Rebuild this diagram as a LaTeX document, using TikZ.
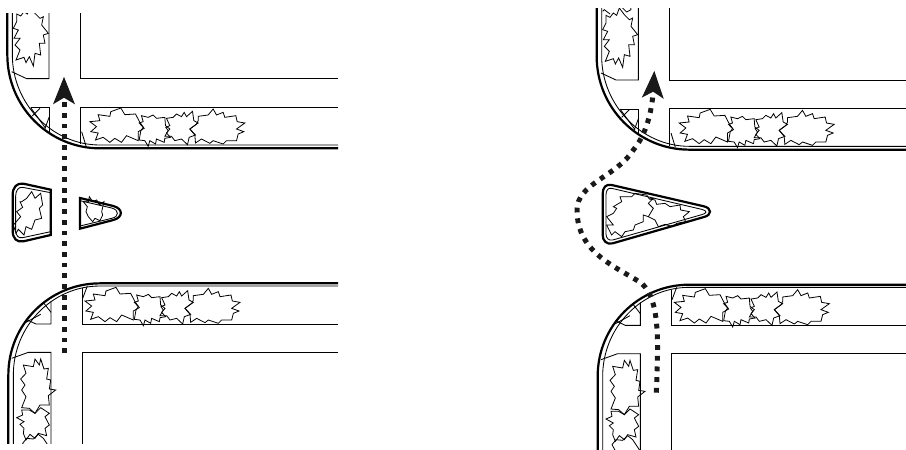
\documentclass[tikz,border=0pt]{standalone}
\usepackage{tikz}
\usetikzlibrary{arrows.meta}
\tikzset{
    kerb/.style={line width=2.2pt},
    road/.style={line width=0.85pt},
    shrub/.style={line width=0.8pt, line join=miter},
    route/.style={line width=5pt, dash pattern=on 4.8pt off 5.9pt, color=black!90,
        -{Stealth[length=27pt,width=21pt,inset=6pt]}}
}
% all coordinates are 3x pixels, y downwards
\newcommand{\shrubrow}{
    \draw[shrub] (280,207) -- (315,212) -- (318,198) -- (348,187) -- (360,207) -- (392,205) -- (405,230) -- (418,248) -- (400,258) -- (400,285) -- (365,270) -- (350,290) -- (330,278) -- (315,290) -- (295,275) -- (272,283) -- (280,262) -- (258,258) -- (275,243) -- (255,228) -- (285,225) -- cycle;
    \draw[shrub] (410,210) -- (430,215) -- (445,208) -- (455,218) -- (480,215) -- (482,240) -- (495,250) -- (485,262) -- (497,275) -- (480,278) -- (478,290) -- (455,280) -- (452,295) -- (435,285) -- (430,302) -- (420,285) -- (403,283) -- (408,255) -- (415,245) -- (403,232) -- (415,228) -- cycle;
    \draw[shrub] (485,218) -- (505,215) -- (515,205) -- (530,213) -- (538,200) -- (545,213) -- (563,197) -- (567,225) -- (580,232) -- (555,250) -- (572,268) -- (553,275) -- (548,297) -- (530,280) -- (510,285) -- (500,272) -- (480,272) -- (490,255) -- (483,245) -- (495,240) -- cycle;
    \draw[shrub] (580,212) -- (610,208) -- (625,190) -- (635,208) -- (655,200) -- (660,215) -- (693,210) -- (697,228) -- (720,232) -- (695,250) -- (717,258) -- (700,265) -- (695,285) -- (665,285) -- (655,295) -- (625,285) -- (615,293) -- (590,280) -- (572,292) -- (570,268) -- (555,250) -- (575,235) -- (580,225) -- cycle;
}
\newcommand{\junction}[2]{
    \begin{scope}
    \clip (-10,#1) rectangle (1014,#2);
    % upper corner
    \draw[kerb] (22,0) -- (22,165) .. controls (22,319) and (146,445) .. (300,445) -- (1014,445);
    \draw[road] (37,0) -- (37,165) .. controls (37,310) and (155,435) .. (300,435) -- (1014,435);
    \draw[road] (35,215) -- (80,236) -- (147,236) -- (147,0);
    \draw[road] (241,0) -- (241,236) -- (1014,236);
    \draw[road] (1014,322) -- (241,322) -- (241,433);
    \draw[road] (245,395) -- (258,438);
    \draw[road] (92,323) -- (148,323) -- (148,395);
    \draw[road] (92,323) -- (137,385);
    \draw[road] (120,325) -- (97,348);
    \draw[road] (148,350) -- (135,385);
    \draw[shrub] (50,42) -- (62,48) -- (72,35) -- (82,42) -- (90,20) -- (105,40) -- (120,55) -- (130,50) -- (125,75) -- (145,100) -- (130,105) -- (135,130) -- (118,130) -- (122,165) -- (105,160) -- (100,198) -- (88,170) -- (78,188) -- (72,172) -- (48,180) -- (60,150) -- (45,135) -- (60,115) -- (42,115) -- (55,90) -- (40,85) -- (50,65) -- cycle;
    \draw[shrub] (40,30) -- (45,25) -- (62,38);
    \draw[shrub] (95,15) -- (112,32) -- (125,25) -- (122,5);
    \begin{scope}[shift={(14.5,137)}]
    \shrubrow
    \end{scope}
    % lower corner
    \begin{scope}[shift={(0,675)}]
    \draw[kerb] (1014,175) -- (300,175) .. controls (148,175) and (25,298) .. (25,450) -- (25,720);
    \draw[road] (1014,183) -- (300,183) .. controls (157,183) and (40,303) .. (40,450) -- (40,720);
    \draw[road] (1014,297) -- (246,297) -- (246,190);
    \draw[road] (262,183) -- (248,220);
    \draw[road] (82,285) -- (108,297) -- (153,297) -- (153,228);
    \draw[road] (153,262) -- (132,235);
    \draw[road] (78,292) -- (122,268);
    \draw[road] (35,400) -- (85,382) -- (153,382) -- (153,720);
    \draw[road] (1014,382) -- (246,382) -- (246,720);
    \shrubrow
    \draw[shrub] (70,420) -- (100,425) -- (105,402) -- (118,420) -- (122,402) -- (132,432) -- (145,430) -- (140,462) -- (152,465) -- (148,492) -- (167,495) -- (145,512) -- (148,540) -- (120,540) -- (105,565) -- (88,550) -- (65,548) -- (78,515) -- (65,495) -- (75,480) -- (62,462) -- (78,445) -- cycle;
    \draw[shrub] (65,555) -- (88,555) -- (105,565) -- (122,548) -- (148,565) -- (135,575) -- (148,600) -- (135,610) -- (140,632) -- (115,625) -- (105,640) -- (90,628) -- (78,645) -- (70,625) -- (72,610) -- (60,598) -- (72,590) -- (50,578) -- (68,570) -- cycle;
    \draw[shrub] (68,655) -- (80,640) -- (100,642) -- (115,628) -- (130,640) -- (150,670) -- (135,690) -- (90,695) -- cycle;
    \end{scope}
    \end{scope}
}
\begin{document}
\begin{tikzpicture}[x=0.33333pt, y=-0.33333pt]
    \useasboundingbox (0,0) rectangle (2718,1347);
    \junction{40}{1330}
    \begin{scope}[shift={(1768,4)}]
    \junction{20}{1343}
    \end{scope}
    % left islands
    \draw[kerb] (152,569) -- (70,551) .. controls (50,548) and (38,562) .. (38,585) -- (38,692) .. controls (38,715) and (50,728) .. (70,724) -- (152,705) -- cycle;
    \draw[road] (152,578) -- (68,562) .. controls (55,560) and (47,572) .. (47,588) -- (47,690) .. controls (47,706) and (55,716) .. (68,713) -- (152,695);
    \draw[shrub] (65,605) -- (80,595) -- (95,575) -- (105,595) -- (122,580) -- (128,615) -- (118,625) -- (125,655) -- (105,660) -- (95,688) -- (78,680) -- (72,705) -- (55,688) -- (48,700) -- (40,675) -- (62,650) -- (50,635) -- (68,622) -- (60,605) -- cycle;
    \draw[kerb] (240,594) -- (340,618) .. controls (370,626) and (370,652) .. (340,660) -- (240,686) -- cycle;
    \draw[road] (240,602) -- (335,624) .. controls (358,630) and (358,650) .. (335,655) -- (240,678);
    \draw[shrub] (250,605) -- (265,605) -- (268,590) -- (278,605) -- (290,600) -- (298,615) -- (312,605) -- (305,635) -- (308,645) -- (300,662) -- (285,655) -- (278,665) -- (265,650) -- (258,635) -- (262,620) -- cycle;
    % right island
    \draw[kerb] (1835,555) -- (2112,619) .. controls (2136,625) and (2136,645) .. (2112,651) -- (1838,730) .. controls (1820,735) and (1808,722) .. (1808,705) -- (1808,582) .. controls (1808,562) and (1818,551) .. (1835,555) -- cycle;
    \draw[road] (1835,565) -- (2105,628) .. controls (2122,632) and (2122,640) .. (2105,644) -- (1838,720) .. controls (1826,723) and (1818,714) .. (1818,702) -- (1818,585) .. controls (1818,572) and (1824,562) .. (1835,565) -- cycle;
    \draw[shrub] (1820,650) -- (1840,640) -- (1850,625) -- (1840,620) -- (1865,605) -- (1860,590) -- (1895,590) -- (1905,580) -- (1940,585) -- (1948,597) -- (1960,595) -- (1945,610) -- (1960,625) -- (1945,650) -- (1930,645) -- (1930,665) -- (1905,675) -- (1900,690) -- (1875,695) -- (1865,710) -- (1845,695) -- (1835,705) -- (1820,675) -- (1840,675) -- cycle;
    \draw[shrub] (1948,597) -- (1965,600) -- (1970,613) -- (1995,610) -- (2010,620) -- (2040,615) -- (2042,630) -- (2068,635) -- (2050,650) -- (2057,665) -- (2030,670) -- (2018,680) -- (1995,673) -- (1975,680) -- (1965,660) -- (1945,650);
    % routes
    \coordinate (leftstart) at (192,1059);
    \coordinate (lefttip) at (192,230);
    \coordinate (rightstart) at (1969,1178);
    \coordinate (rightbend) at (1731,630);
    \coordinate (righttip) at (1963,212);
    \draw[route] (leftstart) -- (lefttip);
    \draw[route] (rightstart) .. controls (1975,1020) and (1980,900) .. (1925,850) .. controls (1850,800) and (1731,760) .. (rightbend) .. controls (1731,550) and (1850,530) .. (1900,450) .. controls (1950,390) and (1958,300) .. (righttip);
\end{tikzpicture}
\end{document}
